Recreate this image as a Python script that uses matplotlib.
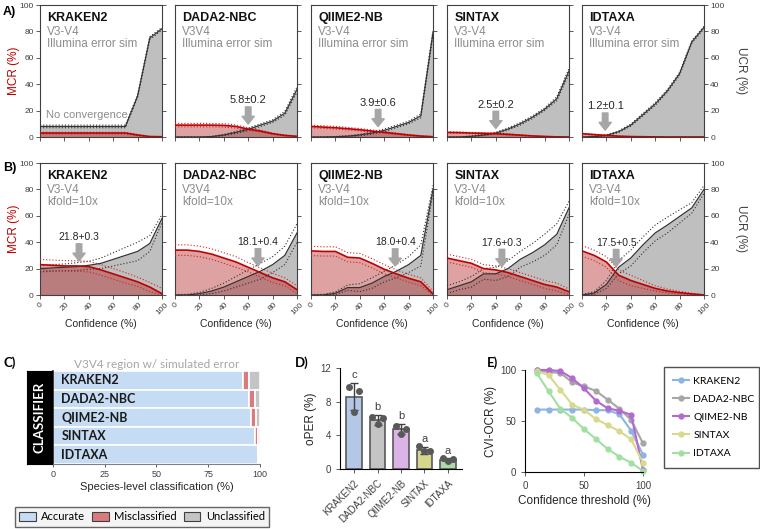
import matplotlib.pyplot as plt
import numpy as np
from matplotlib.lines import Line2D
from matplotlib.patches import Patch

plt.rcParams["font.family"] = ["Liberation Sans", "DejaVu Sans"]

W, H = 760, 529

CLASSIFIERS = ["KRAKEN2", "DADA2-NBC", "QIIME2-NB", "SINTAX", "IDTAXA"]
CONF = [0, 10, 20, 30, 40, 50, 60, 70, 80, 90, 100]
REGION = ["V3-V4", "V3V4", "V3-V4", "V3-V4", "V3-V4"]

# A) V3-V4 with simulated Illumina error
A_MCR = {
    "KRAKEN2": [3, 3, 3, 3, 3, 3, 3, 3, 1.5, 0.3, 0.2],
    "DADA2-NBC": [9, 9, 9, 9, 8.8, 8, 6, 4.5, 2.5, 1.2, 0.5],
    "QIIME2-NB": [8, 7.5, 7, 6.3, 5.5, 4.5, 3.5, 2.5, 1.5, 0.7, 0.2],
    "SINTAX": [3.5, 3.3, 3, 2.8, 2.5, 2, 1.4, 0.8, 0.4, 0.1, 0],
    "IDTAXA": [2.5, 1.8, 1.2, 0.6, 0.3, 0.2, 0.1, 0, 0, 0, 0],
}
A_MCR_SD = {
    "KRAKEN2": [0.6, 0.6, 0.6, 0.6, 0.6, 0.6, 0.6, 0.6, 0.5, 0.2, 0.1],
    "DADA2-NBC": [1.3, 1.3, 1.3, 1.3, 1.3, 1.2, 1, 0.8, 0.5, 0.3, 0.2],
    "QIIME2-NB": [1, 1, 1, 1, 0.9, 0.8, 0.7, 0.5, 0.4, 0.3, 0.1],
    "SINTAX": [0.5, 0.5, 0.5, 0.5, 0.4, 0.4, 0.3, 0.2, 0.1, 0.1, 0],
    "IDTAXA": [0.4, 0.3, 0.2, 0.1, 0.1, 0, 0, 0, 0, 0, 0],
}
A_UCR = {
    "KRAKEN2": [8, 8, 8, 8, 8, 8, 8, 8, 31, 75, 82],
    "DADA2-NBC": [0, 0, 0, 0.3, 1.5, 3.5, 5.8, 9, 12, 18, 36],
    "QIIME2-NB": [0, 0, 0.2, 0.6, 1.5, 3, 5, 8, 11, 16, 79],
    "SINTAX": [0, 0, 0.5, 1.5, 3, 6, 10, 15, 21, 29, 50],
    "IDTAXA": [0, 0.3, 1.2, 4, 9, 17, 25, 35, 48, 72, 83],
}
A_UCR_SD = {
    "KRAKEN2": [1, 1, 1, 1, 1, 1, 1, 1, 1, 1, 1],
    "DADA2-NBC": [0, 0, 0, 0.2, 0.5, 0.8, 1, 1, 1, 1.5, 2],
    "QIIME2-NB": [0, 0, 0.2, 0.4, 0.6, 0.8, 1, 1, 1, 1.5, 2],
    "SINTAX": [0, 0, 0.3, 0.5, 0.6, 0.8, 1, 1, 1, 1.5, 2],
    "IDTAXA": [0, 0.2, 0.4, 0.6, 0.8, 1, 1, 1, 1, 1, 1],
}
A_CROSS_X = [None, 60, 55, 40, 19]
A_CROSS_Y = [None, 5.8, 3.9, 2.5, 1.2]
A_CROSS_LABEL = [None, "5.8±0.2", "3.9±0.6", "2.5±0.2", "1.2±0.1"]

# B) V3-V4, 10-fold cross validation
B_MCR = {
    "KRAKEN2": [23, 22.5, 22, 22, 21.5, 19, 16, 13, 10, 6, 1],
    "DADA2-NBC": [34, 34, 33, 31, 28, 25, 21, 17, 13, 10, 4],
    "QIIME2-NB": [33.4, 33, 33, 28.6, 28, 24, 19.5, 16, 12.7, 10, 0.8],
    "SINTAX": [28, 26, 24, 20, 19, 17, 14, 11, 8, 6, 2.5],
    "IDTAXA": [33.4, 30, 25, 15, 11, 8, 5, 3, 1.8, 0.8, 0],
}
B_MCR_SD = {
    "KRAKEN2": [4, 4, 4, 4, 4, 4, 4, 4, 3.5, 3.5, 4],
    "DADA2-NBC": [4, 4, 4, 4, 4, 4, 3.5, 3.5, 3.5, 3, 3],
    "QIIME2-NB": [3.5, 3.5, 3.5, 3.5, 3.5, 3.5, 3.5, 3, 3, 3, 2],
    "SINTAX": [3, 3, 3, 3, 3, 3, 3, 3, 3, 3, 2],
    "IDTAXA": [4, 4, 4, 4, 4, 3, 2, 1.5, 1, 0.5, 0.3],
}
B_UCR = {
    "KRAKEN2": [20, 20.5, 21, 21.5, 22.5, 24, 27, 30, 33, 39, 58],
    "DADA2-NBC": [0, 0, 1, 3, 6, 10, 14, 18, 23, 30, 47],
    "QIIME2-NB": [0, 0, 1.3, 5.6, 5.6, 9, 14, 18, 23, 30, 80],
    "SINTAX": [4, 7, 10, 16, 16, 20, 27, 32, 38, 46, 66],
    "IDTAXA": [0, 1.5, 8, 21, 28, 38, 47, 53, 59.5, 66, 80],
}
B_UCR_SD = {
    "KRAKEN2": [2.5, 2.5, 2.5, 3, 3, 4, 5, 6, 7, 6, 3],
    "DADA2-NBC": [0.3, 0.5, 1, 2, 3, 4, 5, 6, 6, 7, 7],
    "QIIME2-NB": [0.3, 0.5, 1, 2, 3, 4, 4, 5, 6, 8, 3],
    "SINTAX": [3, 3, 4, 4, 5, 6, 6, 7, 8, 8, 5],
    "IDTAXA": [0.5, 1, 3, 5, 6, 6, 6, 6, 5, 4, 3],
}
B_CROSS_X = [32, 68, 69, 45, 28]
B_CROSS_Y = [21.8, 18.1, 18.0, 17.6, 17.5]
B_CROSS_LABEL = ["21.8+0.3", "18.1+0.4", "18.0+0.4", "17.6+0.3", "17.5+0.5"]

# C) species-level classification, V3V4 w/ simulated error
C_ACCURATE = [91.6, 94.5, 95.5, 97.6, 98.9]
C_MISCLASSIFIED = [2.9, 2.9, 2.4, 1.3, 0.8]
C_UNCLASSIFIED = [5.5, 2.6, 2.1, 1.1, 0.3]

# D) oPER
D_MEAN = [8.6, 5.8, 4.7, 2.2, 1.1]
D_SD = [1.6, 0.6, 0.6, 0.4, 0.15]
D_REPS = [[9.7, 9.3, 6.8], [6.2, 6.1, 5.3], [5.1, 4.8, 4.1], [2.7, 2.1, 2.1], [1.3, 1.2, 1.0]]
D_LETTERS = ["c", "b", "b", "a", "a"]
D_COLORS = ["#b4c7e7", "#c4c4c4", "#dbb3e6", "#d6d78e", "#a9dca9"]

# E) CVI-OCR vs confidence threshold
E_X = [10, 20, 30, 40, 50, 60, 70, 80, 90, 100]
E_KRAKEN2 = [61.2, 61.2, 61.2, 61.2, 61.2, 60.6, 60.6, 56.7, 40.4, 17]
E_DADA2 = [100, 98, 97, 88, 84, 79.5, 71, 62, 51, 28]
E_QIIME2 = [100, 100, 99, 92, 82, 70, 62.5, 60, 56, 2]
E_SINTAX = [99, 95, 80.5, 66, 61, 52, 46, 40, 32, 9]
E_IDTAXA = [97, 79, 62, 53, 42, 32.5, 22.5, 15, 9, 1]
E_COLORS = ["#8db4e2", "#a6a6a6", "#b36ad0", "#d8d98c", "#a2e0a2"]

SPINE = "#404040"
GRAYTXT = "#8c8c8c"
RED = "#c00000"
LATO = ["Lato", "DejaVu Sans"]


def rect(left, top, right, bottom):
    return [left / W, 1 - bottom / H, (right - left) / W, (bottom - top) / H]


def draw_curves(ax, mcr, mcr_sd, ucr, ucr_sd):
    x = np.array(CONF)
    mcr, mcr_sd = np.array(mcr), np.array(mcr_sd)
    ucr, ucr_sd = np.array(ucr), np.array(ucr_sd)
    ax.fill_between(x, 0, ucr, color="#bfbfbf", lw=0, zorder=1)
    ax.fill_between(x, 0, mcr, color="#b22222", alpha=0.42, lw=0, zorder=2)
    for sign in (1, -1):
        ax.plot(x, np.clip(ucr + sign * ucr_sd, 0, 100), color="#303030", lw=0.8,
                ls=(0, (1, 1.8)), zorder=3)
        ax.plot(x, np.clip(mcr + sign * mcr_sd, 0, 100), color="#d42020", lw=0.8,
                ls=(0, (1, 1.8)), zorder=3)
    ax.plot(x, ucr, color="#333333", lw=0.9, zorder=4)
    ax.plot(x, mcr, color=RED, lw=1.2, zorder=5)


def draw_arrow(ax, x, y, label, size):
    ax.annotate("", xy=(x, y + 4), xytext=(x, y + 17),
                arrowprops=dict(arrowstyle="simple,head_length=0.7,head_width=1.1,tail_width=0.5",
                                color="#a6a6a6", shrinkA=0, shrinkB=0, mutation_scale=8),
                zorder=6)
    ax.text(x, y + 22, label, ha="center", va="center", fontsize=size, color="#262626", zorder=6)


def style_panel(ax, i, bottom_labels):
    ax.set_xlim(0, 100)
    ax.set_ylim(0, 100)
    ax.set_xticks([0, 20, 40, 60, 80, 100])
    ax.set_yticks([0, 20, 40, 60, 80, 100])
    for s in ax.spines.values():
        s.set_color(SPINE)
        s.set_linewidth(0.8)
    ax.tick_params(axis="y", left=(i == 0), labelleft=(i == 0), right=True,
                   labelright=(i == 4), direction="out", length=3, width=0.6,
                   labelsize=6, colors=SPINE, pad=1.5)
    ax.tick_params(axis="x", direction="out", length=3, width=0.6, colors=SPINE,
                   labelbottom=bottom_labels, labelsize=6, pad=1.5)
    if bottom_labels:
        for t in ax.get_xticklabels():
            t.set_rotation(45)
            t.set_ha("center")
        ax.set_xlabel("Confidence (%)", fontsize=7.5, color="#262626", labelpad=2)


fig = plt.figure(figsize=(W / 100, H / 100), dpi=100)

lefts = [40, 175, 311, 447, 582]
rows = [
    (5, 137, A_MCR, A_MCR_SD, A_UCR, A_UCR_SD, "Illumina error sim", False),
    (163, 295, B_MCR, B_MCR_SD, B_UCR, B_UCR_SD, "kfold=10x", True),
]
for r, (top, bottom, mcr, mcr_sd, ucr, ucr_sd, sub, xlab) in enumerate(rows):
    for i, name in enumerate(CLASSIFIERS):
        ax = fig.add_axes(rect(lefts[i], top, lefts[i] + 122, bottom))
        draw_curves(ax, mcr[name], mcr_sd[name], ucr[name], ucr_sd[name])
        style_panel(ax, i, xlab)
        ax.text(0.06, 0.905, name, transform=ax.transAxes, fontsize=9,
                fontweight="bold", va="center", color="#111111")
        ax.text(0.06, 0.795, REGION[i], transform=ax.transAxes, fontsize=8.5,
                va="center", color=GRAYTXT)
        ax.text(0.06, 0.705, sub, transform=ax.transAxes, fontsize=8.5,
                va="center", color=GRAYTXT)
        if r == 0:
            if A_CROSS_X[i] is None:
                ax.text(5, 17, "No convergence", fontsize=8, color=GRAYTXT, va="center")
            else:
                draw_arrow(ax, A_CROSS_X[i], A_CROSS_Y[i], A_CROSS_LABEL[i], 8)
        else:
            draw_arrow(ax, B_CROSS_X[i], B_CROSS_Y[i], B_CROSS_LABEL[i], 7.5)
    mid = 1 - (top + bottom) / 2 / H
    fig.text(14 / W, mid, "MCR (%)", rotation=90, color=RED, fontsize=8.5,
             ha="center", va="center")
    fig.text(741 / W, mid, "UCR (%)", rotation=-90, color="#404040", fontsize=8.5,
             ha="center", va="center")

fig.text(3 / W, 1 - 12 / H, "A)", fontsize=9, fontweight="bold", va="center")
fig.text(3 / W, 1 - 168 / H, "B)", fontsize=9, fontweight="bold", va="center")
for lx, lab in [(3, "C)"), (295, "D)"), (487, "E)")]:
    fig.text(lx / W, 1 - 363 / H, lab, fontsize=9.5, fontweight="bold", va="center",
             family=LATO)

# C) stacked horizontal bars
axc = fig.add_axes(rect(53, 371, 260, 464))
yc = np.arange(len(CLASSIFIERS))
acc = np.array(C_ACCURATE)
mis = np.array(C_MISCLASSIFIED)
unc = np.array(C_UNCLASSIFIED)
c_cols = ["#c6dbf4", "#d97b7d", "#c4c4c4"]
axc.barh(yc, acc, height=1.0, color=c_cols[0], edgecolor="white", lw=1.2)
axc.barh(yc, mis, left=acc, height=1.0, color=c_cols[1], edgecolor="white", lw=1.2)
axc.barh(yc, unc, left=acc + mis, height=1.0, color=c_cols[2], edgecolor="white", lw=1.2)
for i, name in enumerate(CLASSIFIERS):
    axc.text(4, i, name, fontsize=9, fontweight="bold", va="center",
             family=LATO, color="#1a1a1a")
axc.set_xlim(0, 100)
axc.set_ylim(len(CLASSIFIERS) - 0.5, -0.5)
axc.set_yticks([])
axc.set_xticks([0, 25, 50, 75, 100])
axc.tick_params(axis="x", labelsize=6.5, length=2.5, width=0.6, colors=SPINE, pad=2)
axc.spines["top"].set_visible(False)
axc.spines["right"].set_visible(False)
axc.spines["left"].set_linewidth(1.2)
axc.spines["left"].set_color("#202020")
axc.spines["bottom"].set_color("#808080")
axc.set_xlabel("Species-level classification (%)", fontsize=8, color="#262626", labelpad=2)
axc.set_title("V3V4 region w/ simulated error", fontsize=8.5, color="#a6a6a6",
              family=LATO, pad=2)

axk = fig.add_axes(rect(27, 371, 52, 464))
axk.set_facecolor("black")
axk.set_xticks([])
axk.set_yticks([])
axk.text(0.5, 0.5, "CLASSIFIER", rotation=90, color="white", fontsize=9.5,
         fontweight="bold", ha="center", va="center", transform=axk.transAxes,
         family=LATO)

handles = [Patch(facecolor=c, edgecolor="#404040", lw=0.8) for c in c_cols]
fig.legend(handles, ["Accurate", "Misclassified", "Unclassified"], ncol=3,
           loc="center", bbox_to_anchor=(15 / W, 1 - 528 / H, 254 / W, 22 / H),
           frameon=True, fancybox=False, facecolor="#f2f2f2", edgecolor="#404040",
           handlelength=1.5, handleheight=0.9, handletextpad=0.5, columnspacing=0.6,
           borderpad=0.4, prop={"family": LATO, "size": 8})

# D) oPER bars
axd = fig.add_axes(rect(340, 368, 462, 469))
xd = np.arange(len(CLASSIFIERS))
axd.bar(xd, D_MEAN, width=0.65, color=D_COLORS, edgecolor="#595959", lw=1.2, zorder=1)
axd.errorbar(xd, D_MEAN, yerr=D_SD, fmt="none", ecolor="#404040", elinewidth=1,
             capsize=3, capthick=1, zorder=2)
offsets = [-0.22, 0.22, 0.0]
for i, reps in enumerate(D_REPS):
    axd.scatter([xd[i] + o for o in offsets], reps, s=16, color="#595959", zorder=3)
    axd.text(xd[i], D_MEAN[i] + D_SD[i] + 0.35, D_LETTERS[i], ha="center",
             va="bottom", fontsize=8, color="#404040")
axd.set_xlim(-0.6, len(CLASSIFIERS) - 0.4)
axd.set_ylim(0, 12)
axd.set_yticks([0, 4, 8, 12])
axd.set_xticks(xd)
axd.set_xticklabels(CLASSIFIERS, rotation=45, ha="right", rotation_mode="anchor")
axd.tick_params(labelsize=7, length=3, width=0.6, colors=SPINE)
axd.set_ylabel("oPER (%)", fontsize=8.5, color="#262626", labelpad=2)
axd.spines["top"].set_visible(False)
axd.spines["right"].set_visible(False)

# E) CVI-OCR lines
axe = fig.add_axes(rect(525, 370, 643, 472))
e_series = [E_KRAKEN2, E_DADA2, E_QIIME2, E_SINTAX, E_IDTAXA]
for vals, col, name in zip(e_series, E_COLORS, CLASSIFIERS):
    axe.plot(E_X, vals, color=col, lw=1.5, marker="o", ms=3.5, label=name, clip_on=False)
axe.set_xlim(0, 100)
axe.set_ylim(0, 100)
axe.set_xticks([0, 50, 100])
axe.set_yticks([0, 50, 100])
axe.tick_params(labelsize=7, length=3, width=0.6, colors=SPINE)
axe.spines["top"].set_visible(False)
axe.spines["right"].set_visible(False)
axe.set_xlabel("Confidence threshold (%)", fontsize=8.5, color="#262626", labelpad=3)
axe.set_ylabel("CVI-OCR (%)", fontsize=8.5, color="#262626", labelpad=2)
axe.legend(loc="upper left", bbox_to_anchor=(664 / W, 1 - 472 / H, 95 / W, 105 / H),
           bbox_transform=fig.transFigure, mode="expand", frameon=True,
           fancybox=False, edgecolor="#262626", handlelength=1.5, labelspacing=0.85,
           borderpad=0.9, handletextpad=0.4, borderaxespad=0,
           prop={"family": LATO, "size": 7.5})

fig.savefig("out.png", dpi=100)
